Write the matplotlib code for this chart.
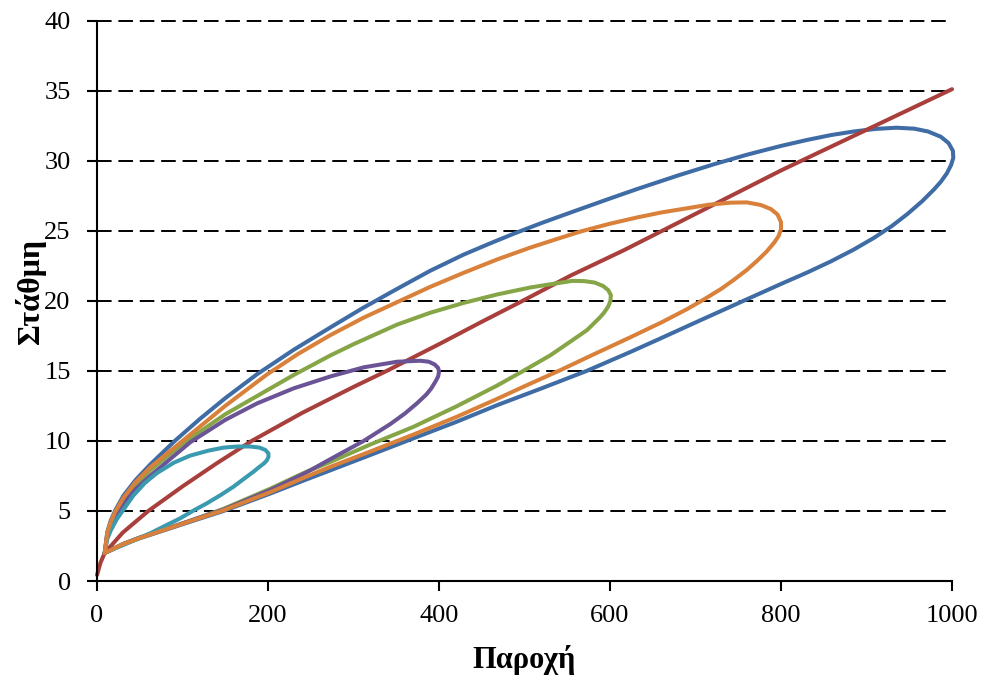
import matplotlib.pyplot as plt

plt.rcParams['font.family'] = ['Liberation Serif', 'DejaVu Serif']

# steady rating curve
q_steady = [0, 4, 9, 30, 60, 100, 140, 181, 240, 300, 339, 400, 450, 498, 554, 616, 700, 800, 900, 1000]
h_steady = [0.43, 1.3, 2.0, 3.45, 5.0, 6.75, 8.4, 10.0, 12.0, 13.85, 15.0, 16.9, 18.5, 20.0, 21.8, 23.6, 26.2, 29.3, 32.2, 35.1]

# loop rating curves: upper branch out to the peak, lower branch back to base flow
q_1000_top = [9, 12, 16, 21, 31, 45, 62, 91, 120, 150, 187, 230, 273, 310, 351, 390, 429, 460, 488, 520, 554,
              600, 632, 680, 722, 760, 800, 830, 858, 885, 910, 935, 956, 972, 987, 996, 1001]
h_1000_top = [2.0, 3.5, 4.3, 5.0, 6.1, 7.2, 8.3, 10.0, 11.55, 13.05, 14.75, 16.5, 18.1, 19.45, 20.85, 22.15, 23.3, 24.1, 24.8, 25.55, 26.3,
              27.3, 27.98, 28.95, 29.75, 30.42, 31.05, 31.47, 31.82, 32.08, 32.26, 32.35, 32.28, 32.08, 31.7, 31.25, 30.7]
q_1000_bot = [1001.5, 999, 994, 987, 979, 965, 948, 930, 909, 885, 858, 830, 800, 749, 700, 655, 624, 573, 520, 468, 420, 370, 320, 273, 245, 203, 148, 109, 80, 50, 30, 9]
h_1000_bot = [30.2, 29.7, 29.1, 28.5, 27.95, 27.1, 26.2, 25.35, 24.5, 23.65, 22.8, 22.0, 21.2, 19.8, 18.45, 17.2, 16.35, 15.0, 13.75, 12.55, 11.35, 10.18, 9.0, 7.9, 7.25, 6.25, 5.0, 4.23, 3.65, 3.05, 2.6, 2.0]

q_800_top = [9, 12, 16, 21, 31, 45, 62, 100, 150, 199, 235, 273, 312, 351, 390, 429, 468, 507, 540, 566,
             600, 632, 660, 690, 715, 741, 760, 776, 788, 796, 800]
h_800_top = [2.0, 3.45, 4.2, 4.9, 5.95, 7.05, 8.1, 10.0, 12.5, 14.75, 16.2, 17.55, 18.8, 19.9, 21.0, 22.0, 22.95, 23.8, 24.45, 24.95,
             25.5, 25.95, 26.3, 26.6, 26.85, 27.0, 27.02, 26.84, 26.55, 26.15, 25.6]
q_800_bot = [800, 797, 792, 783, 772, 760, 745, 730, 710, 690, 660, 624, 580, 542, 500, 468, 420, 370, 320, 273, 245, 203, 148, 109, 80, 50, 30, 9]
h_800_bot = [25.1, 24.6, 24.15, 23.5, 22.85, 22.2, 21.5, 20.85, 20.1, 19.4, 18.45, 17.4, 16.15, 15.05, 13.9, 13.0, 11.7, 10.45, 9.25, 8.15, 7.45, 6.35, 5.05, 4.27, 3.68, 3.07, 2.62, 2.0]

q_600_top = [9, 12, 16, 21, 31, 45, 62, 100, 150, 190, 230, 273, 300, 351, 390, 429, 468, 507, 538, 556, 570, 582, 592, 598, 601]
h_600_top = [2.0, 3.4, 4.1, 4.75, 5.8, 6.85, 7.9, 9.8, 11.9, 13.3, 14.7, 16.1, 16.9, 18.3, 19.15, 19.85, 20.45, 20.95, 21.25, 21.42, 21.4, 21.3, 21.05, 20.75, 20.4]
q_600_bot = [600.5, 598, 593, 588, 573, 554, 530, 497, 468, 420, 370, 320, 273, 245, 203, 148, 109, 80, 50, 30, 9]
h_600_bot = [20.0, 19.6, 19.15, 18.8, 17.9, 17.1, 16.1, 14.94, 13.95, 12.45, 11.0, 9.75, 8.5, 7.8, 6.6, 5.15, 4.3, 3.7, 3.1, 2.63, 2.0]

q_400_top = [9, 12, 16, 21, 31, 45, 62, 109, 150, 187, 230, 273, 312, 351, 378, 388, 395, 399, 400]
h_400_top = [2.0, 3.3, 3.95, 4.55, 5.55, 6.55, 7.5, 9.9, 11.5, 12.67, 13.75, 14.6, 15.25, 15.65, 15.72, 15.65, 15.45, 15.2, 14.94]
q_400_bot = [399, 396, 391, 385, 374, 360, 343, 312, 273, 245, 203, 148, 109, 80, 50, 30, 9]
h_400_bot = [14.6, 14.25, 13.75, 13.3, 12.67, 11.95, 11.2, 10.0, 8.7, 7.75, 6.5, 5.1, 4.3, 3.7, 3.1, 2.63, 2.0]

q_200_top = [9, 12, 16, 23, 31, 42.5, 56, 70, 90, 109, 130, 148, 165, 179, 190, 197, 200.5]
h_200_top = [2.0, 3.0, 3.6, 4.4, 5.1, 6.1, 7.0, 7.7, 8.45, 8.95, 9.3, 9.52, 9.6, 9.6, 9.52, 9.35, 9.1]
q_200_bot = [200.5, 198.5, 195, 190, 183, 172, 159.6, 145, 128.4, 112, 97.2, 80, 62, 45, 30.8, 20, 9]
h_200_bot = [8.85, 8.6, 8.38, 8.15, 7.8, 7.3, 6.73, 6.15, 5.54, 5.0, 4.47, 3.95, 3.4, 2.95, 2.57, 2.3, 2.0]

c_blue = '#3F6CA5'
c_red = '#A83F3C'
c_green = '#86A546'
c_purple = '#6A5495'
c_cyan = '#3A9AAF'
c_orange = '#D9813A'

fig = plt.figure(figsize=(9.84, 6.77), dpi=100)
ax = fig.add_axes([0.0986, 0.1418, 0.8689, 0.8279])

# dashed horizontal gridlines
ax.hlines(range(5, 45, 5), 0, 1000, colors='black', linestyles=(0, (7.5, 3.5)),
          lw=1.4, clip_on=False, zorder=1)

style = dict(lw=2.9, solid_joinstyle='round', solid_capstyle='round', clip_on=False)
ax.plot(q_1000_top + q_1000_bot, h_1000_top + h_1000_bot, color=c_blue, zorder=2, **style)
ax.plot(q_steady, h_steady, color=c_red, zorder=3, **style)
ax.plot(q_600_top + q_600_bot, h_600_top + h_600_bot, color=c_green, zorder=4, **style)
ax.plot(q_400_top + q_400_bot, h_400_top + h_400_bot, color=c_purple, zorder=5, **style)
ax.plot(q_200_top + q_200_bot, h_200_top + h_200_bot, color=c_cyan, zorder=6, **style)
ax.plot(q_800_top + q_800_bot, h_800_top + h_800_bot, color=c_orange, zorder=7, **style)

ax.set_xlim(0, 1000)
ax.set_ylim(0, 40)
ax.set_xticks(range(0, 1001, 200))
ax.set_yticks(range(0, 41, 5))

for side in ('top', 'right'):
    ax.spines[side].set_visible(False)
for side in ('left', 'bottom'):
    ax.spines[side].set_linewidth(1.5)
    ax.spines[side].set_zorder(8)

ax.tick_params(direction='out', length=7, width=1.5, labelsize=19, colors='black')
ax.tick_params(axis='y', pad=12)
ax.tick_params(axis='x', pad=10)

fig.text(524 / 984, 1 - 668 / 677, 'Παροχή', ha='center', va='baseline',
         fontsize=22, fontweight='bold')
fig.text(31 / 984, 1 - 291 / 677, 'Στάθμη', ha='center', va='center',
         rotation=90, fontsize=23, fontweight='bold')

fig.savefig('out.png', dpi=100)
